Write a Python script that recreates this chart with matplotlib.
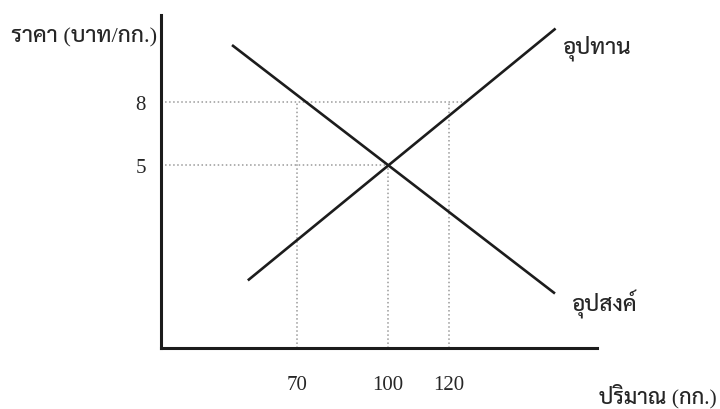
import matplotlib
matplotlib.use('Agg')
import matplotlib.pyplot as plt
import numpy as np

# ราคา (บาท/กก.) กับ ปริมาณ (กก.)
qty_ticks = [70, 100, 120]
price_ticks = [5, 8]

# จุดบนกราฟ: อุปสงค์ที่ 8 บาท, ดุลยภาพ, อุปทานที่ 8 บาท
guide_q = [70, 100, 120]
guide_p = [8, 5, 8]

# ปลายเส้นอุปสงค์ / อุปทาน (อ่านจากภาพ)
demand_q = [48.8, 154.8]
demand_p = [10.67, -1.07]
supply_q = [54.0, 155.0]
supply_p = [-0.45, 11.45]

thai = ['Liberation Serif', 'Sarabun']
ink = '#1c1c1c'
dots = '#9a9a9a'
txt = '#262626'

fig = plt.figure(figsize=(7.2, 4.1), dpi=100)
ax = fig.add_axes([0.2232, 0.15, 0.606, 0.811])
ax.set_xlim(25.4, 168.6)
ax.set_ylim(-3.62, 12.09)

for s in ['top', 'right']:
    ax.spines[s].set_visible(False)
for s in ['left', 'bottom']:
    ax.spines[s].set_linewidth(2.2)
    ax.spines[s].set_color(ink)

# เส้นประ
x0, y0 = ax.get_xlim()[0], ax.get_ylim()[0]
q_s8 = np.interp(8, supply_p, supply_q)
ax.plot([x0, max(q_s8, 120)], [8, 8], ls=':', lw=1.1, color=dots)
ax.plot([x0, 100], [5, 5], ls=':', lw=1.1, color=dots)
for q, p in zip(guide_q, guide_p):
    ax.plot([q, q], [y0, p], ls=':', lw=1.1, color=dots)

ax.plot(demand_q, demand_p, color=ink, lw=1.9, solid_capstyle='butt')
ax.plot(supply_q, supply_p, color=ink, lw=1.9, solid_capstyle='butt')

ax.set_xticks(qty_ticks)
ax.set_xticklabels([str(v) for v in qty_ticks])
ax.set_yticks(price_ticks)
ax.set_yticklabels([str(v) for v in price_ticks])
ax.tick_params(axis='x', length=0, pad=19.5, labelsize=15, labelcolor=txt)
ax.tick_params(axis='y', length=0, pad=10.5, labelsize=15, labelcolor=txt)
for lab in ax.get_xticklabels() + ax.get_yticklabels():
    lab.set_family('Liberation Serif')

ax.annotate('อุปทาน', xy=(supply_q[-1], supply_p[-1]), xytext=(4.5, -17),
            textcoords='offset points', ha='left', va='baseline',
            fontsize=16.2, family=thai, fontweight='medium', color=txt,
            annotation_clip=False)
ax.annotate('อุปสงค์', xy=(demand_q[-1], demand_p[-1]), xytext=(11.5, -12),
            textcoords='offset points', ha='left', va='baseline',
            fontsize=16.2, family=thai, fontweight='medium', color=txt,
            annotation_clip=False)

fig.text(157 / 720, 1 - 42 / 410, 'ราคา (บาท/กก.)', ha='right', va='baseline',
         fontsize=16.2, family=thai, fontweight='medium', color=txt)
fig.text(717 / 720, 1 - 403 / 410, 'ปริมาณ (กก.)', ha='right', va='baseline',
         fontsize=15.6, family=thai, fontweight='medium', color=txt)

fig.savefig('out.png', dpi=100, facecolor='white')
